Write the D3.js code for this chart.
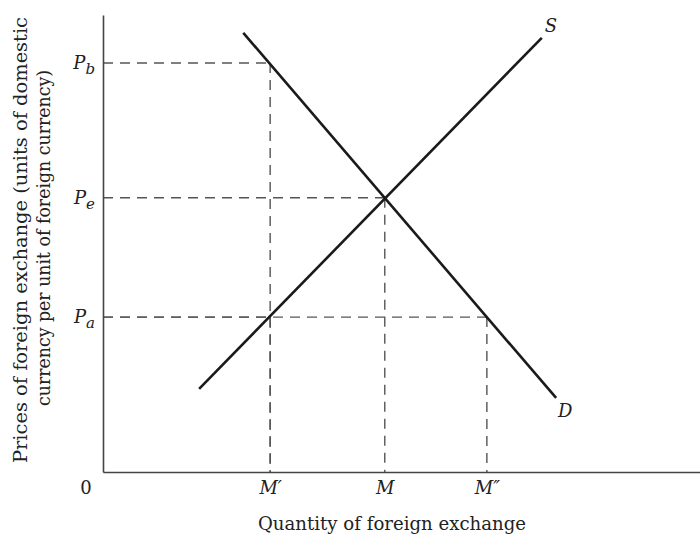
<!DOCTYPE html>
<html>
<head>
<meta charset="utf-8">
<script src="https://cdn.jsdelivr.net/npm/d3@7"></script>
<style>
  body { margin: 0; background: #fff; }
  svg text { font-family: "DejaVu Serif", serif; fill: #222; }
  .axis path { stroke: #444; stroke-width: 1.6; }
  .axis text { font-style: italic; font-size: 18px; }
</style>
</head>
<body>
<div class="chart"></div>
<script>
// quantity ticks on the x axis
const qTicks = [28.0, 47.2, 64.3];
const qLabels = ['M\u2032', 'M', 'M\u2033'];
// price ticks on the y axis
const pTicks = [89.5, 60.0, 33.9];
const pSubs = ['b', 'e', 'a'];
// supply and demand lines, endpoints [quantity, price]
const supply = [[16.1, 18.2], [73.5, 95.0]];
const demand = [[23.5, 96.1], [75.9, 16.2]];
// guide points where the dashed lines meet the curves
const guides = [[28.0, 89.5], [47.2, 60.0], [28.0, 33.9], [64.3, 33.9]];

const width = 700, height = 536;
const svg = d3.select('.chart').append('svg')
    .attr('width', width).attr('height', height);

const x = d3.scaleLinear([0, 100], [103, 700]);
const y = d3.scaleLinear([0, 100], [472, 15]);

// dashed guides
const dash = svg.append('g').attr('class', 'guides')
    .attr('stroke', '#555').attr('stroke-width', 1.4)
    .attr('stroke-dasharray', '10,7').attr('fill', 'none');
guides.forEach(g => {
    dash.append('line')
        .attr('x1', x(0)).attr('x2', x(g[0]))
        .attr('y1', y(g[1])).attr('y2', y(g[1]));
    dash.append('line')
        .attr('x1', x(g[0])).attr('x2', x(g[0]))
        .attr('y1', y(g[1])).attr('y2', y(0));
});

// curves
const line = d3.line().x(d => x(d[0])).y(d => y(d[1]));
svg.append('path').datum(supply).attr('d', line)
    .attr('stroke', '#1a1a1a').attr('stroke-width', 2.6).attr('fill', 'none');
svg.append('path').datum(demand).attr('d', line)
    .attr('stroke', '#1a1a1a').attr('stroke-width', 2.6).attr('fill', 'none');

svg.append('text').attr('x', x(supply[1][0]) + 3).attr('y', y(supply[1][1]) - 6)
    .style('font-style', 'italic').style('font-size', '18px').text('S');
svg.append('text').attr('x', x(demand[1][0]) + 2).attr('y', y(demand[1][1]) + 19)
    .style('font-style', 'italic').style('font-size', '18px').text('D');

// axes
const xAxis = d3.axisBottom(x).tickValues(qTicks).tickSize(0).tickSizeOuter(0)
    .tickPadding(9).tickFormat((d, i) => qLabels[i]);
svg.append('g').attr('class', 'axis x')
    .attr('transform', `translate(0,${y(0)})`).call(xAxis)
    .call(g => g.selectAll('text').attr('font-family', null).attr('font-size', null).attr('fill', null));

const yAxis = d3.axisLeft(y).tickValues(pTicks).tickSize(0).tickSizeOuter(0)
    .tickPadding(8).tickFormat(() => '');
const yAxisDraw = svg.append('g').attr('class', 'axis y')
    .attr('transform', `translate(${x(0)},0)`).call(yAxis);
yAxisDraw.selectAll('.tick text')
    .attr('font-family', null).attr('font-size', null).attr('fill', null)
    .each(function(d, i) {
        const t = d3.select(this);
        t.append('tspan').text('P');
        t.append('tspan').text(pSubs[i]).attr('dy', '0.3em').style('font-size', '15px');
    });

// origin
svg.append('text').attr('x', 86).attr('y', 494).attr('text-anchor', 'middle')
    .style('font-size', '18px').text('0');

// axis titles
svg.append('text').attr('x', 392).attr('y', 530)
    .attr('text-anchor', 'middle').style('font-size', '18px')
    .attr('textLength', 268).attr('lengthAdjust', 'spacingAndGlyphs')
    .text('Quantity of foreign exchange');
const yTitle = svg.append('text').attr('transform', 'translate(0,240) rotate(-90)')
    .attr('text-anchor', 'middle').style('font-size', '18px');
yTitle.append('tspan').attr('x', 0).attr('y', 27)
    .attr('textLength', 446).attr('lengthAdjust', 'spacingAndGlyphs')
    .text('Prices of foreign exchange (units of domestic');
yTitle.append('tspan').attr('x', 2).attr('y', 50)
    .attr('textLength', 336).attr('lengthAdjust', 'spacingAndGlyphs')
    .text('currency per unit of foreign currency)');
</script>
</body>
</html>
